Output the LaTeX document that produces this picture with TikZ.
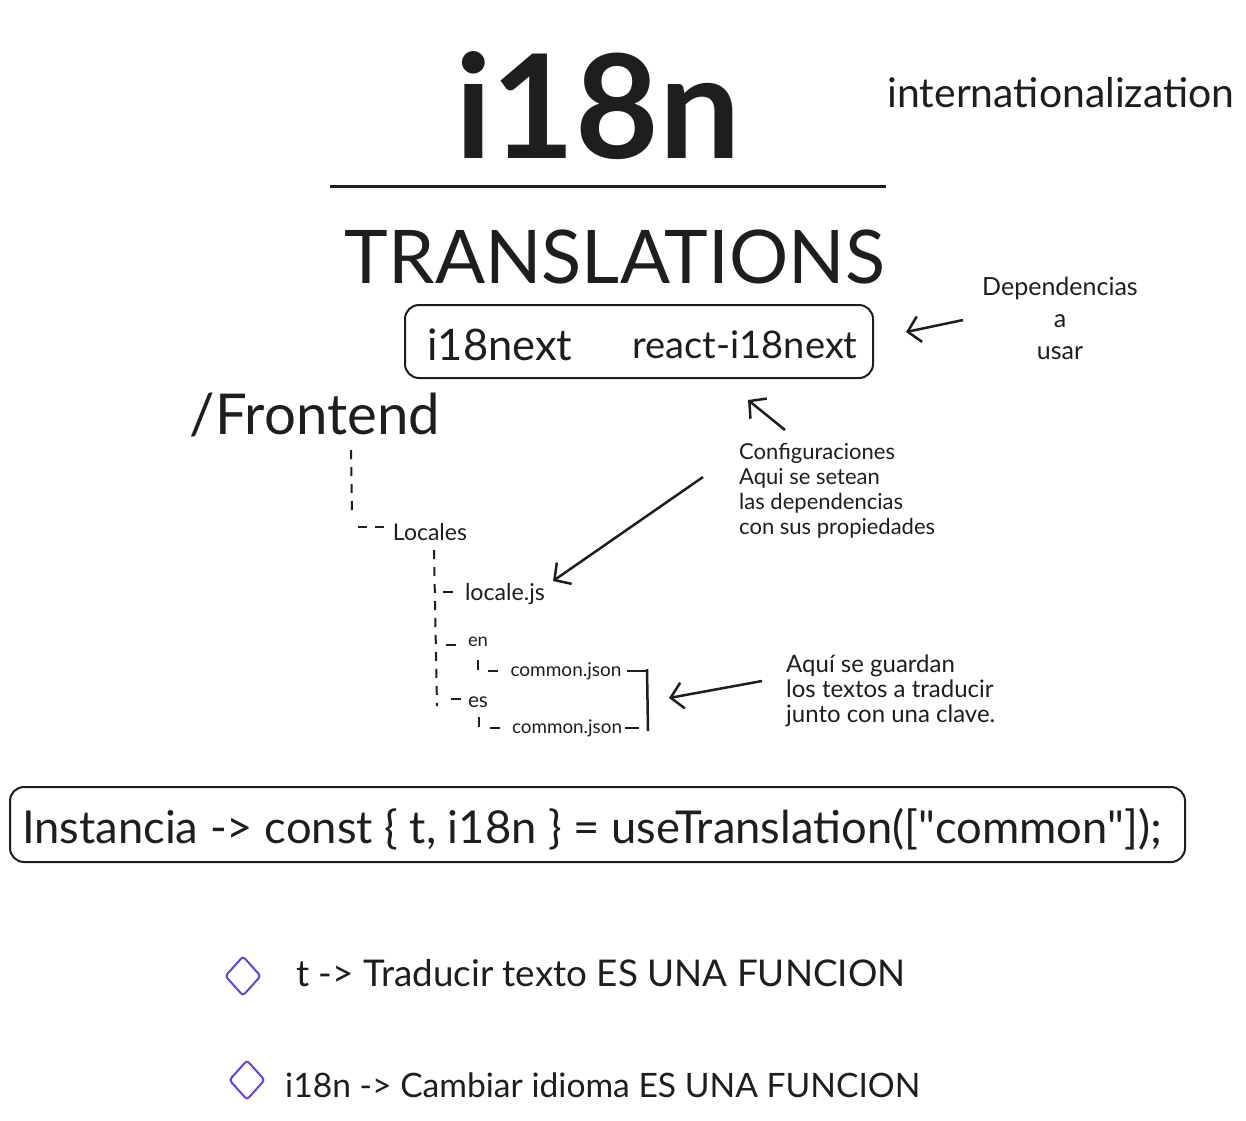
\documentclass[tikz,border=0pt]{standalone}
\usepackage{fontspec}
\setmainfont{Lato}
\newfontfamily\rawlato{Lato}[Ligatures=TeXOff]
\usetikzlibrary{arrows.meta,shapes.geometric}
\newcommand\fitw[2]{\resizebox{#1pt}{!}{#2}}
\newcommand\sq{{\rawlato"}}
\definecolor{myviolet}{HTML}{6741D9}
\definecolor{ink}{HTML}{1E1E1E}
\begin{document}
\begin{tikzpicture}[x=1pt,y=-1pt,
  txt/.style={inner sep=0pt, text=ink},
  boxed/.style={draw=ink, line width=2pt, rounded corners=14pt},
  arr/.style={draw=ink, line width=2.5pt, -{Straight Barb[length=12pt,width=26pt,line width=2.5pt]}},
  tree/.style={draw=ink, line width=2pt, dash pattern=on 9pt off 8pt},
  treesolid/.style={draw=ink, line width=2pt},
  bulletmark/.style={draw=myviolet, line width=2pt, shape=diamond, minimum width=36pt, minimum height=40pt, inner sep=0pt, rounded corners=3pt},
  note/.style={txt, align=left, font=\fontsize{22}{25}\selectfont}]
\useasboundingbox (0,0) rectangle (1246,1120);
\fill[white] (0,0) rectangle (1246,1120);

% title
\node[txt] (title) at (598,106) {\fitw{285}{\bfseries i18n}};
\node[txt] (intl) at (1061,93) {\fitw{347}{internationalization}};
\coordinate (hl) at (330,186);
\coordinate (hr) at (886,186);
\draw[ink, line width=3pt] (hl) -- (hr);
\node[txt] (trans) at (615,257) {\fitw{540}{TRANSLATIONS}};

% dependencies box
\node[boxed, minimum width=468pt, minimum height=73pt] (deps) at (639,341.5) {};
\node[txt] (i18next) at (500,345) {\fitw{145}{i18next}};
\node[txt] (react) at (745,345) {\fitw{225}{react-i18next}};
\node[txt, align=center, font=\fontsize{25}{32}\selectfont] (depnote) at (1060,318) {Dependencias\\a\\usar};
\coordinate (a1s) at (963,320);
\coordinate (a1e) at (906,332);
\draw[arr] (a1s) -- (a1e);

% frontend tree
\node[txt] (fe) at (315,415) {\fitw{250}{/Frontend}};
\node[txt] (loc) at (430,532) {\fitw{74}{Locales}};
\node[txt] (localejs) at (505,594) {\fitw{80}{locale.js}};
\node[txt] (en) at (478,642) {\fitw{20}{en}};
\node[txt] (cen) at (566,671) {\fitw{111}{common.json}};
\node[txt] (es) at (478,702) {\fitw{20}{es}};
\node[txt] (ces) at (567,728) {\fitw{110}{common.json}};

\coordinate (t1a) at (351,450); \coordinate (t1b) at (352,516);
\draw[tree] (t1a) -- (t1b);
\coordinate (t2a) at (358,527); \coordinate (t2b) at (388,527);
\draw[tree] (t2a) -- (t2b);
\coordinate (t3a) at (434,550); \coordinate (t3b) at (437,706);
\draw[tree] (t3a) -- (t3b);
\coordinate (d1a) at (443,592); \coordinate (d1b) at (453,592);
\draw[treesolid] (d1a) -- (d1b);
\coordinate (d2a) at (446,645); \coordinate (d2b) at (456,645);
\draw[treesolid] (d2a) -- (d2b);
\coordinate (d3a) at (451,699); \coordinate (d3b) at (461,699);
\draw[treesolid] (d3a) -- (d3b);
\coordinate (v1a) at (478,660); \coordinate (v1b) at (478,670);
\draw[treesolid] (v1a) -- (v1b);
\coordinate (h1a) at (488,671); \coordinate (h1b) at (498,671);
\draw[treesolid] (h1a) -- (h1b);
\coordinate (h2a) at (627,671); \coordinate (h2b) at (646,671);
\draw[treesolid] (h2a) -- (h2b);
\coordinate (v2a) at (479,717); \coordinate (v2b) at (479,727);
\draw[treesolid] (v2a) -- (v2b);
\coordinate (h3a) at (490,728); \coordinate (h3b) at (500,728);
\draw[treesolid] (h3a) -- (h3b);
\coordinate (h4a) at (625,728); \coordinate (h4b) at (639,728);
\draw[treesolid] (h4a) -- (h4b);
\coordinate (bra) at (647,669); \coordinate (brb) at (648,731);
\draw[ink, line width=2.5pt] (bra) -- (brb);

% notes
\node[note, anchor=north west] (conf) at (739,443) {Configuraciones\\Aqui se setean\\las dependencias\\con sus propiedades};
\node[note, anchor=north west, font=\fontsize{24}{25}\selectfont] (guard) at (786,655) {Aquí se guardan\\los textos a traducir\\junto con una clave.};
\coordinate (a2s) at (703,477); \coordinate (a2e) at (553,581);
\draw[arr] (a2s) -- (a2e);
\coordinate (a3s) at (785,430); \coordinate (a3e) at (748,400);
\draw[arr] (a3s) -- (a3e);
\coordinate (a4s) at (762,681); \coordinate (a4e) at (669,698);
\draw[arr] (a4s) -- (a4e);

% instance box
\node[boxed, minimum width=1175pt, minimum height=75pt] (inst) at (597.5,824.5) {};
\node[txt] (instt) at (592,829) {\fitw{1140}{Instancia -> const \{ t, i18n \} = useTranslation([\sq common\sq]);}};

% bullets
\node[bulletmark] (m1) at (243,976) {};
\node[bulletmark] (m2) at (247,1080) {};
\node[txt, anchor=west] (b1) at (296,973) {\fitw{609}{t -> Traducir texto ES UNA FUNCION}};
\node[txt, anchor=west] (b2) at (285,1085) {\fitw{635}{i18n -> Cambiar idioma ES UNA FUNCION}};
\end{tikzpicture}
\end{document}
